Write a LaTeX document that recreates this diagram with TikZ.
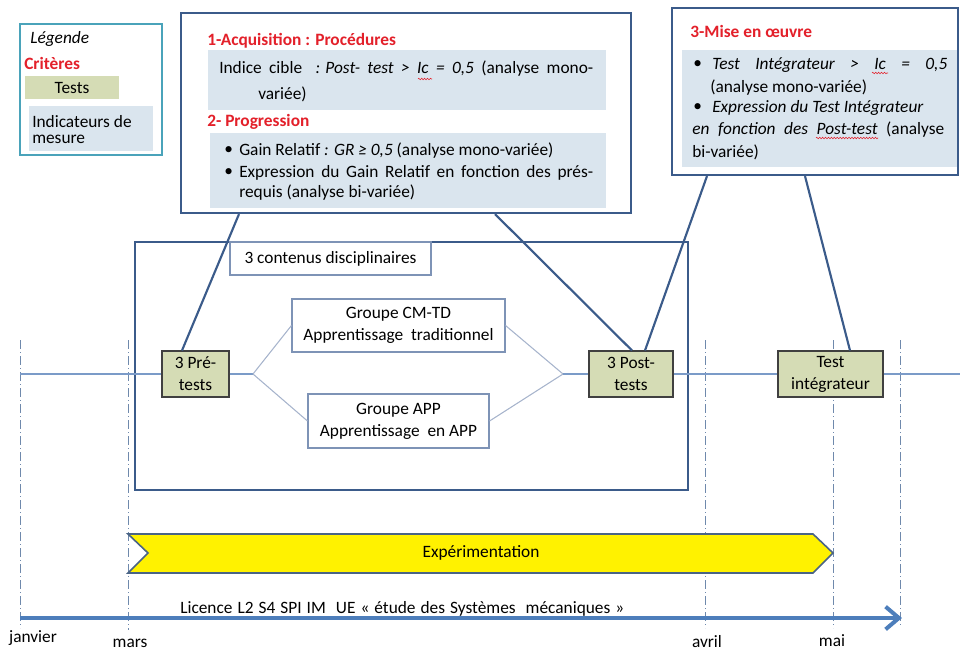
\documentclass[tikz,border=0pt]{standalone}
\usepackage{fontspec}
\setmainfont{Carlito}
\usetikzlibrary{fit,arrows.meta,decorations.pathmorphing}
\definecolor{dblue}{HTML}{3B5B8A}
\definecolor{legteal}{HTML}{4AA3BA}
\definecolor{panelblue}{HTML}{DAE5EE}
\definecolor{testgreen}{HTML}{D5DCB5}
\definecolor{boxblue}{HTML}{7E93B6}
\definecolor{critred}{HTML}{E3202A}
\definecolor{dashcol}{HTML}{6F89AC}
\definecolor{tlcol}{HTML}{7B9BC8}
\definecolor{forkcol}{HTML}{A7B4CC}
\definecolor{arrowblue}{HTML}{4D7EBB}
\definecolor{yelborder}{HTML}{4A6485}
\newcommand{\J}[2]{\makebox[#1][s]{#2}}
\begin{document}
\begin{tikzpicture}[x=0.75pt,y=-0.75pt,
  font=\fontsize{13}{16.5}\selectfont,
  frame/.style={draw=dblue, line width=1.6pt, inner sep=0pt},
  panel/.style={fill=panelblue, draw=none, inner sep=0pt},
  greenbox/.style={fill=testgreen, draw=black!75, line width=0.8pt, inner sep=0pt},
  wbox/.style={draw=boxblue, line width=0.8pt, fill=white, inner sep=0pt},
  ctext/.style={align=center, inner sep=0pt},
  txt/.style={anchor=west, inner sep=0pt},
  head/.style={txt, text=critred, font=\fontsize{13}{17}\selectfont\bfseries},
  vdash/.style={draw=dashcol, line width=0.6pt, dash pattern=on 7pt off 2pt on 1pt off 2pt},
  tl/.style={draw=tlcol, line width=1pt},
  forkline/.style={draw=forkcol, line width=0.8pt},
  link/.style={draw=dblue, line width=1.6pt},
  spell/.style={draw=critred, line width=0.4pt, decorate, decoration={zigzag, segment length=2.2pt, amplitude=0.6pt}}
]
\useasboundingbox (0,0) rectangle (960,651);

% dashed month lines
\draw[vdash] (20,340) -- (20,628);
\draw[vdash] (128,340) -- (128,630);
\draw[vdash] (705,340) -- (705,628);
\draw[vdash] (833,340) -- (833,628);
\draw[vdash] (900,340) -- (900,625);

% legend
\node[fit={(20,24) (162,155)}, draw=legteal, line width=1.5pt, inner sep=0pt] (leg) {};
\node[txt, font=\fontsize{13}{17}\selectfont\itshape] (legt) at (30,39) {Légende};
\node[head] (crit) at (24,63) {Critères};
\node[fit={(25,76) (119,99)}, fill=testgreen, inner sep=0pt] (legtests) {};
\node[ctext] (legteststxt) at (legtests.center) {Tests};
\node[fit={(29,106) (153,151)}, panel] (legind) {};
\node[txt] (legi1) at (32,122) {Indicateurs de};
\node[txt] (legi2) at (32,139) {mesure};

% box 1
\node[fit={(181,13) (631,213)}, frame, fill=white] (box1) {};
\node[head] (h1) at (207,41) {1-Acquisition : Procédures};
\node[fit={(208,50) (606,110)}, panel] (p1) {};
\node[txt] (a1) at (219,69) {\J{280.5pt}{Indice cible\hspace{10pt}\textit{:\hspace{4pt}Post- test > Ic = 0,5} (analyse mono-}};
\node[txt] (a2) at (258,94) {variée)};
\node[head] (h2) at (207,122) {2- Progression};
\node[fit={(210,133) (606,208)}, panel] (p2) {};
\node[txt] (b1) at (224,151) {•};
\node[txt] (b1t) at (239,151) {Gain Relatif \textit{: GR ≥ 0,5} (analyse mono-variée)};
\node[txt] (b2) at (224,173) {•};
\node[txt] (b2t) at (239,173) {\J{265.5pt}{Expression du Gain Relatif en fonction des prés-}};
\node[txt] (b3t) at (239,193) {requis (analyse bi-variée)};

% box 3
\node[fit={(672,8) (958,175)}, frame, fill=white] (box3) {};
\node[head] (h3) at (690,31) {3-Mise en œuvre};
\node[fit={(682,50) (957,167)}, panel] (p3) {};
\node[txt] (c1) at (693,65) {•};
\node[txt] (c1t) at (712,65) {\J{176.25pt}{\textit{Test Intégrateur > Ic = 0,5}}};
\node[txt] (c2t) at (710,88) {(analyse mono-variée)};
\node[txt] (c3) at (693,108) {•};
\node[txt] (c3t) at (712,108) {\textit{Expression du Test Intégrateur}};
\node[txt] (c4t) at (692,130) {\J{189pt}{\textit{en fonction des Post-test} (analyse}};
\node[txt] (c5t) at (692,152) {bi-variée)};

% spell-check marks
\draw[spell] (418,79) -- (432,79);
\draw[spell] (872,73) -- (888,73);
\draw[spell] (816,138) -- (878,138);

% inner frame
\node[fit={(135,242) (688,490)}, frame] (inner) {};
\node[fit={(230,242) (431,275)}, wbox] (cont) {};
\node[ctext] (contt) at (cont.center) {3 contenus disciplinaires};

% boxes on timeline
\node[fit={(292,299) (505,352)}, wbox] (cm) {};
\node[ctext] (cmt) at (cm.center) {Groupe CM-TD\\Apprentissage\ \ traditionnel};
\node[fit={(308,394) (489,448)}, wbox] (app) {};
\node[ctext] (appt) at (app.center) {Groupe APP\\Apprentissage\ \ en APP};
\node[fit={(162,351) (229,397)}, greenbox] (pre) {};
\node[ctext] (pret) at (pre.center) {3 Pré-\\tests};
\node[fit={(589,351) (673,397)}, greenbox] (post) {};
\node[ctext] (postt) at (post.center) {3 Post-\\tests};
\node[fit={(778,351) (883,397)}, greenbox] (test) {};
\node[ctext] (testt) at (test.center) {Test\\intégrateur};

\coordinate (tl0) at (20,374);
\coordinate (tl1) at (960,374);
\coordinate (fork) at (253,374);
\coordinate (join) at (563,374);

\draw[tl] (tl0) -- (pre.west);
\draw[tl] (pre.east) -- (fork);
\draw[forkline] (fork) -- (cm.west);
\draw[forkline] (fork) -- (app.west);
\draw[forkline] (cm.east) -- (join);
\draw[forkline] (app.east) -- (join);
\draw[tl] (join) -- (post.west);
\draw[tl] (post.east) -- (test.west);
\draw[tl] (test.east) -- (tl1);

% links to criteria boxes
\draw[link] (pre.north -| 182,0) -- (box1.south -| 239,0);
\draw[link] (post.north -| 632,0) -- (box1.south -| 495,0);
\draw[link] (post.north -| 645,0) -- (box3.south -| 707,0);
\draw[link] (test.north -| 850,0) -- (box3.south -| 805,0);

% experimentation band
\draw[fill=yellow, draw=yelborder, line width=1.2pt] (128,534) -- (813,534) -- (833,553) -- (813,573) -- (128,573) -- (148,553) -- cycle;
\node (exp) at (481,553) {Expérimentation};

% time axis
\coordinate (ax0) at (20,618);
\coordinate (ax1) at (902,618);
\draw[line width=3pt, arrowblue, -{Straight Barb[length=10pt,width=17pt]}] (ax0) -- (ax1);
\node[txt] (lic) at (180,609) {\J{333pt}{Licence L2 S4 SPI IM\ \ UE « étude des Systèmes\ \ mécaniques »}};
\node (jan) at (33,638) {janvier};
\node (mar) at (130,643) {mars};
\node (avr) at (707,642) {avril};
\node (mai) at (832,641) {mai};
\end{tikzpicture}
\end{document}
